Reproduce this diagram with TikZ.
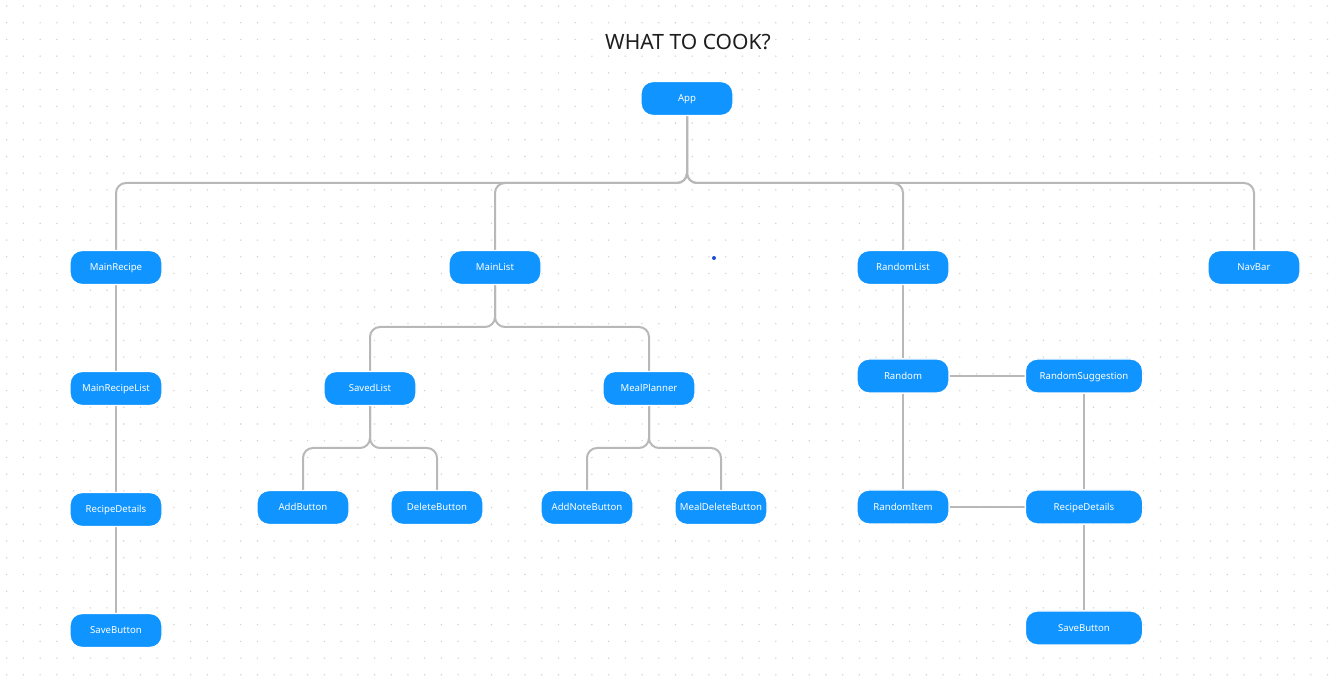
\documentclass[tikz,border=0pt]{standalone}
\usepackage{fontspec}
\setmainfont{Noto Sans}
\definecolor{nodeblue}{HTML}{1094FF}
\definecolor{linegray}{HTML}{B8B8B8}
\definecolor{dotgray}{HTML}{D2D2D2}
\definecolor{titlec}{HTML}{1E1E1E}
\definecolor{markblue}{HTML}{1C4FD8}
\pgfdeclarelayer{grid}
\pgfdeclarelayer{links}
\pgfsetlayers{grid,links,main}
\tikzset{
  comp/.style={rectangle, rounded corners=9pt, fill=nodeblue, draw=white, line width=1pt,
    text=white, font=\fontsize{7.2}{9}\selectfont, minimum width=69pt, minimum height=25.5pt,
    inner sep=0pt, text height=5.15pt, text depth=0pt},
  wide/.style={comp, minimum width=88pt},
  conn/.style={draw=linegray, line width=1.5pt, rounded corners=7.5pt},
}
\begin{document}
\begin{tikzpicture}[x=0.75pt, y=-0.75pt]
\useasboundingbox (0,0) rectangle (1340,680);
\begin{pgfonlayer}{grid}
\fill[white] (0,0) rectangle (1340,680);
\foreach \i in {0,...,79} {
  \foreach \j in {0,...,40} {
    \fill[dotgray] ({6.7+\i*16.72},{6+\j*16.72}) circle (0.8);
  }
}
\end{pgfonlayer}

\node[text=titlec, font=\fontsize{15.8}{18}\selectfont, text height=11.3pt, text depth=0pt, inner sep=0pt] (title) at (688,42) {WHAT TO COOK?};

\coordinate (bus1) at (0,183);
\coordinate (bus2) at (0,327);
\coordinate (bus3) at (0,448);

\node[comp] (app) at (687,98.5) {App};
\node[comp] (mr) at (116,267.5) {MainRecipe};
\node[comp] (ml) at (495,267.5) {MainList};
\node[comp] (rl) at (903,267.5) {RandomList};
\node[comp] (nb) at (1254,267.5) {NavBar};

\node[comp] (mrl) at (116,388.5) {MainRecipeList};
\node[comp] (rd) at (116,509.5) {RecipeDetails};
\node[comp] (sb) at (116,630.5) {SaveButton};

\node[comp] (sl) at (370,388.5) {SavedList};
\node[comp] (mp) at (649,388.5) {MealPlanner};
\node[comp] (ab) at (303,507.5) {AddButton};
\node[comp] (db) at (437,507.5) {DeleteButton};
\node[comp] (anb) at (587,507.5) {AddNoteButton};
\node[comp] (mdb) at (721,507.5) {MealDeleteButton};

\node[comp] (rnd) at (903,376) {Random};
\node[wide] (rs) at (1084,376) {RandomSuggestion};
\node[comp] (ri) at (903,507) {RandomItem};
\node[wide] (rd2) at (1084,507) {RecipeDetails};
\node[wide] (sb2) at (1084,628) {SaveButton};

\begin{pgfonlayer}{links}
\foreach \t in {mr,ml,rl,nb} {
  \draw[conn] (app.south) -- (app.south |- bus1) -| (\t.north);
}
\foreach \t in {sl,mp} {
  \draw[conn] (ml.south) -- (ml.south |- bus2) -| (\t.north);
}
\foreach \t in {ab,db} {
  \draw[conn] (sl.south) -- (sl.south |- bus3) -| (\t.north);
}
\foreach \t in {anb,mdb} {
  \draw[conn] (mp.south) -- (mp.south |- bus3) -| (\t.north);
}
\draw[conn] (mr) -- (mrl);
\draw[conn] (mrl) -- (rd);
\draw[conn] (rd) -- (sb);
\draw[conn] (rl) -- (rnd);
\draw[conn] (rnd) -- (ri);
\draw[conn] (rnd) -- (rs);
\draw[conn] (ri) -- (rd2);
\draw[conn] (rs) -- (rd2);
\draw[conn] (rd2) -- (sb2);
\end{pgfonlayer}

\fill[markblue] (714,258) circle (2);
\end{tikzpicture}
\end{document}
